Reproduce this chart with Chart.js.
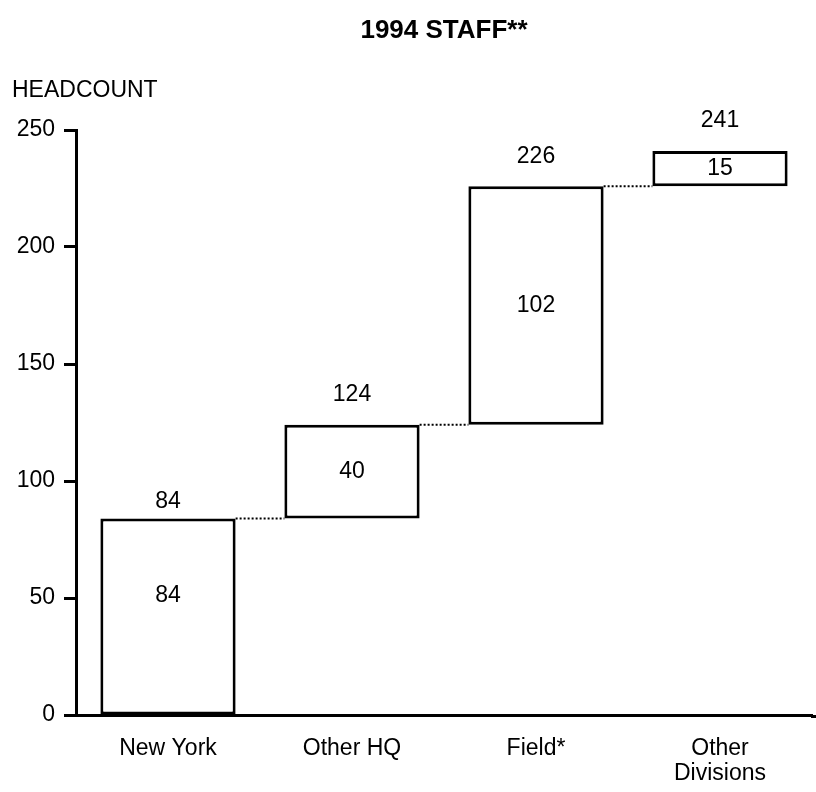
<!DOCTYPE html>
<html>
<head>
<meta charset="utf-8">
<script src="https://cdn.jsdelivr.net/npm/chart.js@4.4.1/dist/chart.umd.min.js"></script>
<style>
  body { margin: 0; background: #fff; }
</style>
</head>
<body>
<canvas id="staffChart" width="816" height="792"></canvas>
<script>
// data
const categories = ['New York', 'Other HQ', 'Field*', ['Other', 'Divisions']];
const increments = [84, 40, 102, 15];
const totals = [84, 124, 226, 241];
const yTicks = [0, 50, 100, 150, 200, 250];

// label placement (pixels), as in the original layout
const totalLabelGap = [17, 30, 30, 30];
const innerLabelShift = [-21, 0, 0, 0];

const FONT = '"Liberation Sans", Arial, Helvetica, sans-serif';

// floating bars: each step runs from the previous total to its own total
const ranges = totals.map((t, i) => [t - increments[i], t]);

const waterfallExtras = {
    id: 'waterfallExtras',
    afterDatasetsDraw(chart) {
        const c = chart.ctx;
        const y = chart.scales.y;
        const bars = chart.getDatasetMeta(0).data;
        const area = chart.chartArea;

        // dotted connectors
        c.save();
        c.strokeStyle = '#000';
        c.lineWidth = 2;
        c.setLineDash([2, 2]);
        for (let i = 0; i < bars.length - 1; i++) {
            const yy = y.getPixelForValue(totals[i]);
            c.beginPath();
            c.moveTo(bars[i].x + bars[i].width / 2, yy);
            c.lineTo(bars[i + 1].x - bars[i + 1].width / 2, yy);
            c.stroke();
        }
        c.restore();

        // value labels
        c.save();
        c.fillStyle = '#000';
        c.font = '23px ' + FONT;
        c.textAlign = 'center';
        c.textBaseline = 'middle';
        bars.forEach((b, i) => {
            const top = y.getPixelForValue(totals[i]);
            const bottom = y.getPixelForValue(totals[i] - increments[i]);
            c.fillText(String(totals[i]), b.x, top - totalLabelGap[i]);
            c.fillText(String(increments[i]), b.x, (top + bottom) / 2 + innerLabelShift[i]);
        });
        c.restore();

        // x axis runs on to the right edge
        c.save();
        c.strokeStyle = '#000';
        c.lineWidth = 3;
        c.beginPath();
        c.moveTo(area.right - 1, area.bottom + 1.5);
        c.lineTo(chart.width, area.bottom + 1.5);
        c.stroke();
        c.restore();
    },
    afterDraw(chart) {
        const c = chart.ctx;
        const area = chart.chartArea;
        c.save();
        c.fillStyle = '#000';
        c.textBaseline = 'middle';
        c.font = 'bold 26px ' + FONT;
        c.textAlign = 'center';
        c.fillText('1994 STAFF**', (area.left + area.right) / 2, 31);
        c.font = '23px ' + FONT;
        c.textAlign = 'left';
        c.fillText('HEADCOUNT', 12, 91);
        c.restore();
    }
};

new Chart(document.getElementById('staffChart'), {
    type: 'bar',
    data: {
        labels: categories,
        datasets: [{
            data: ranges,
            backgroundColor: '#fff',
            borderColor: '#000',
            borderWidth: 3,
            borderSkipped: false,
            barPercentage: 0.735,
            categoryPercentage: 1
        }]
    },
    options: {
        responsive: false,
        animation: false,
        layout: {
            padding: { top: 130, right: 4, left: 0, bottom: 0 }
        },
        plugins: {
            legend: { display: false },
            tooltip: { enabled: false }
        },
        scales: {
            x: {
                grid: { display: false, drawTicks: false },
                border: { color: '#000', width: 3 },
                ticks: {
                    color: '#000',
                    font: { family: FONT, size: 23, lineHeight: 1.1 },
                    padding: 21,
                    maxRotation: 0
                },
                afterFit(scale) { scale.height = 77; }
            },
            y: {
                min: 0,
                max: 250,
                afterBuildTicks(scale) {
                    scale.ticks = yTicks.map(v => ({ value: v }));
                },
                grid: {
                    drawOnChartArea: false,
                    drawTicks: true,
                    tickLength: 12,
                    tickColor: '#000',
                    tickWidth: 3
                },
                border: { color: '#000', width: 3 },
                ticks: {
                    color: '#000',
                    font: { family: FONT, size: 23 },
                    padding: 9
                },
                afterFit(scale) { scale.width = 76; }
            }
        }
    },
    plugins: [waterfallExtras]
});
</script>
</body>
</html>
